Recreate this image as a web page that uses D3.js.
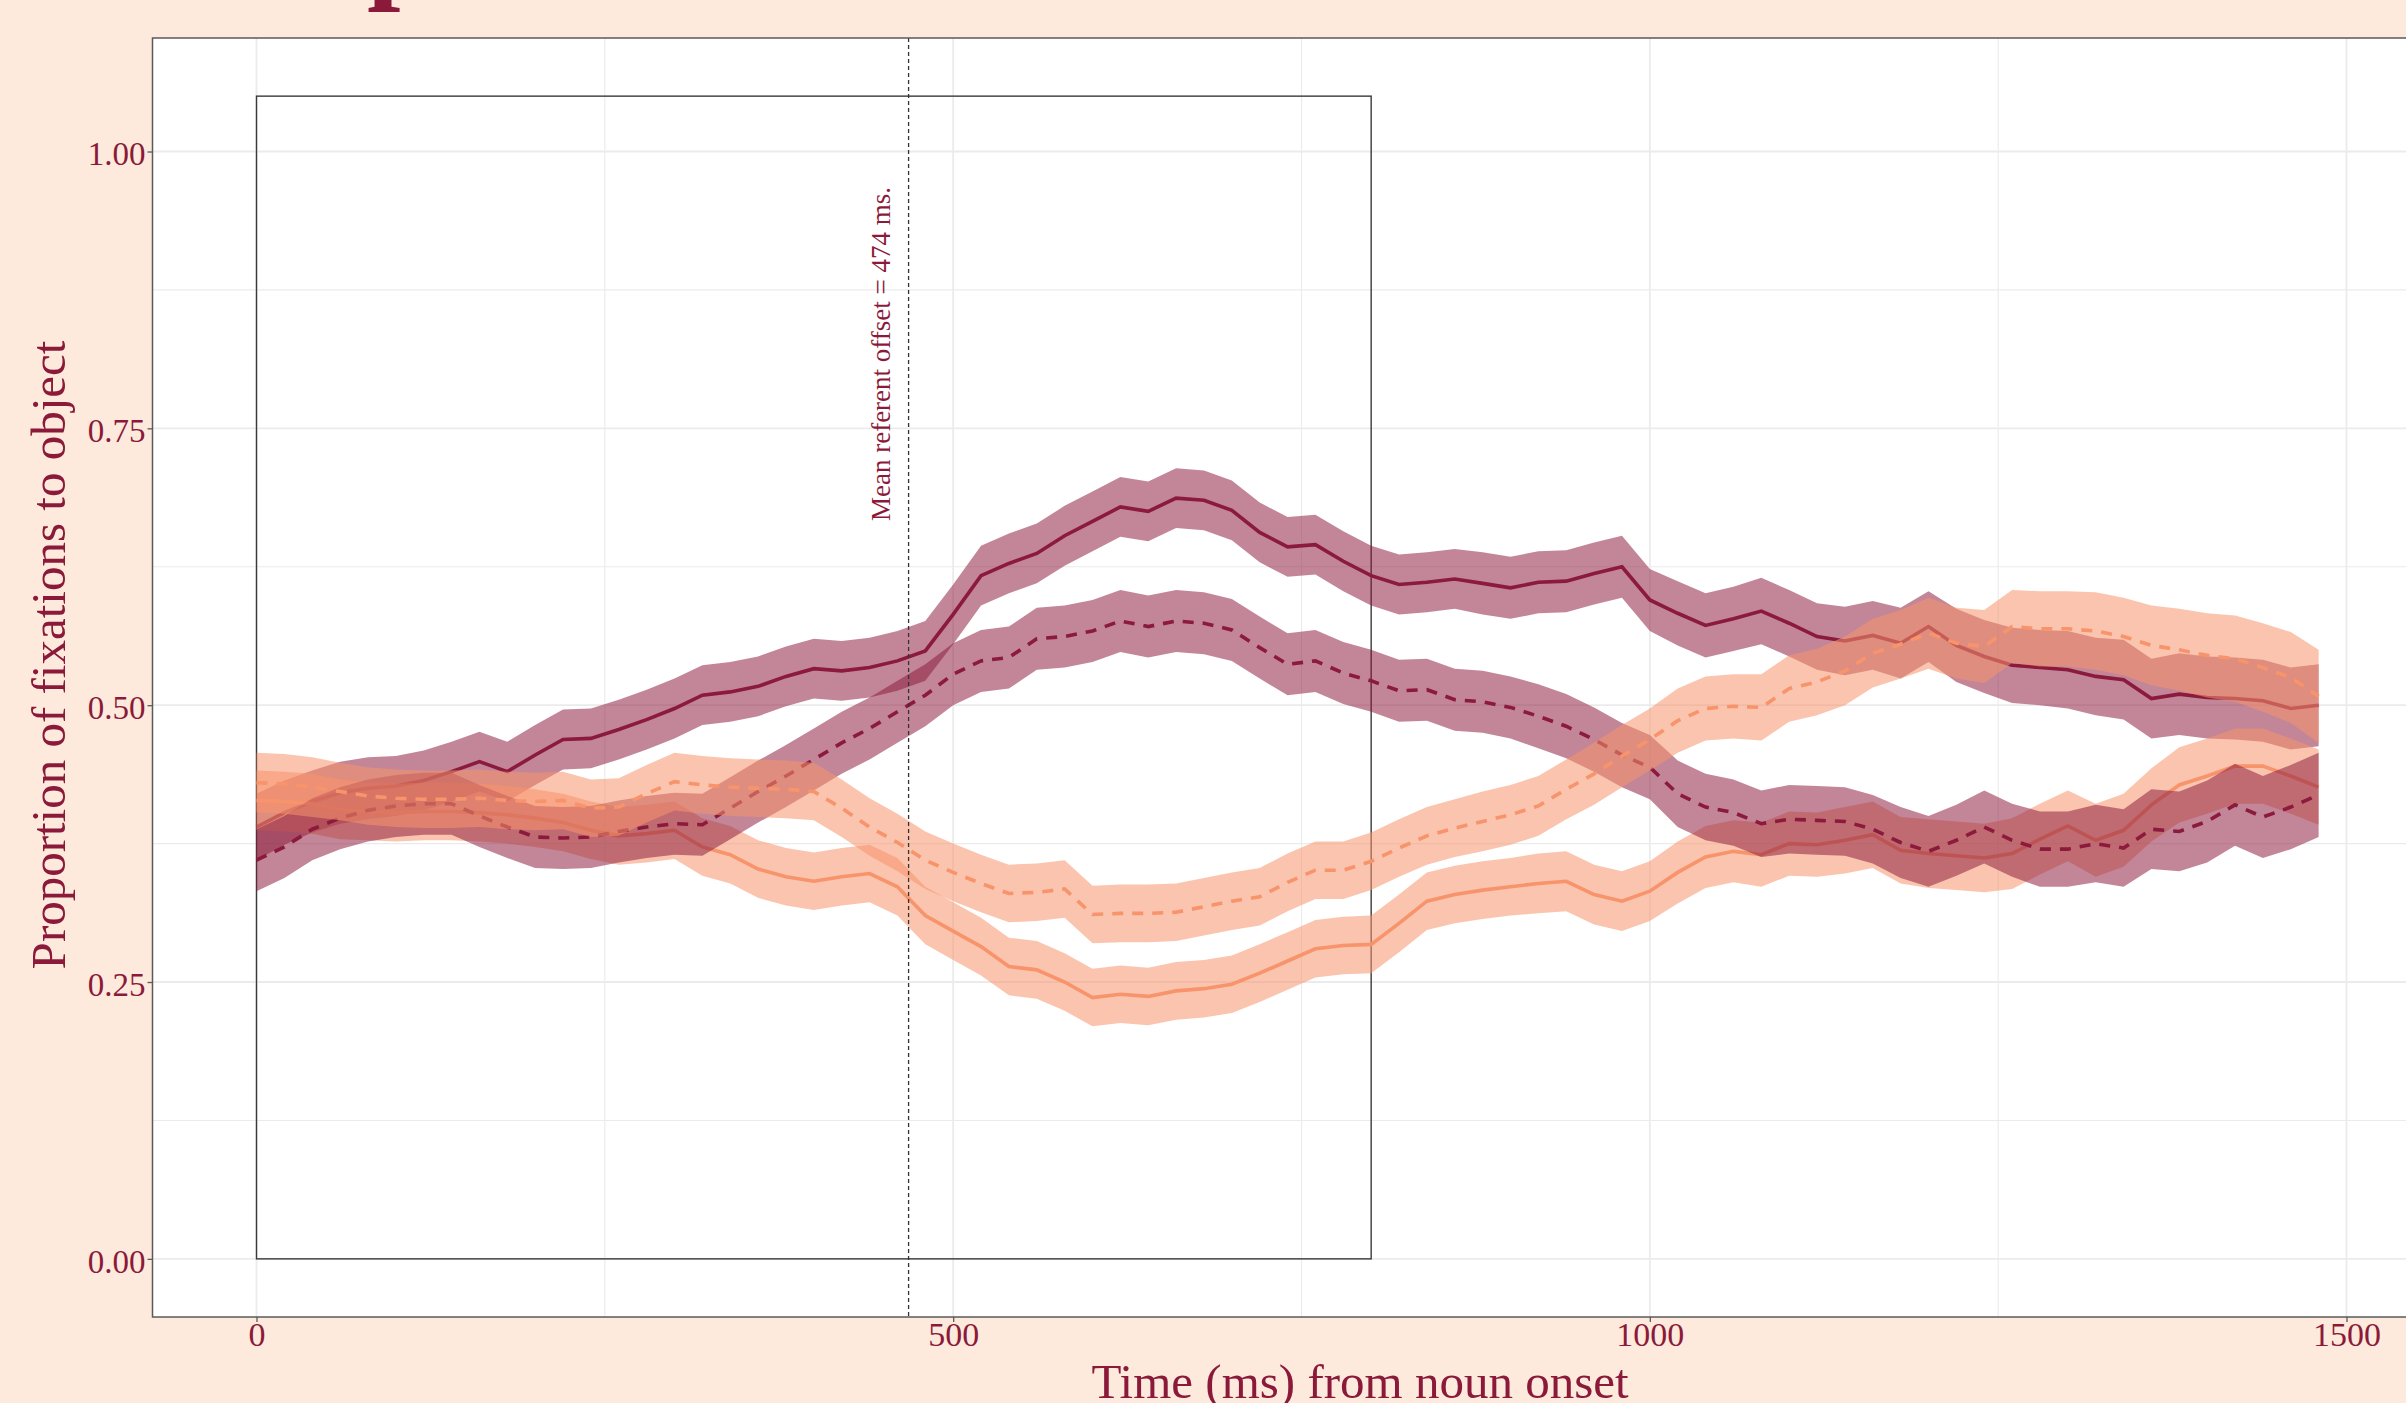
<!DOCTYPE html>
<html>
<head>
<meta charset="utf-8">
<script src="https://cdn.jsdelivr.net/npm/d3@7"></script>
<style>
  html, body { margin: 0; padding: 0; background: #FDEADC; }
  svg { display: block; }
  text { font-family: "Liberation Serif", "DejaVu Serif", serif; }
</style>
</head>
<body>
<svg id="chart" width="2406" height="1403"></svg>
<script>
// ---------------- DATA ----------------
const timeMs = [0,20,40,60,80,100,120,140,160,180,200,220,240,260,280,300,320,340,360,380,
  400,420,440,460,480,500,520,540,560,580,600,620,640,660,680,700,720,740,760,780,
  800,820,840,860,880,900,920,940,960,980,1000,1020,1040,1060,1080,1100,1120,1140,1160,1180,
  1200,1220,1240,1260,1280,1300,1320,1340,1360,1380,1400,1420,1440,1460,1480];

// dark (maroon) condition, solid line
const darkSolid = [0.390,0.403,0.413,0.421,0.425,0.427,0.432,0.440,0.449,0.440,
  0.455,0.469,0.470,0.478,0.487,0.497,0.509,0.512,0.517,0.526,
  0.533,0.531,0.534,0.540,0.549,0.582,0.617,0.628,0.637,0.653,
  0.666,0.679,0.675,0.687,0.685,0.676,0.656,0.643,0.645,0.630,
  0.617,0.609,0.611,0.614,0.610,0.606,0.611,0.612,0.619,0.625,
  0.595,0.583,0.572,0.578,0.585,0.574,0.562,0.558,0.563,0.556,
  0.571,0.554,0.544,0.536,0.534,0.532,0.526,0.523,0.506,0.510,
  0.507,0.506,0.504,0.497,0.500];
const darkSolidHalfCI = [0.030,0.029,0.028,0.028,0.028,0.027,0.027,0.027,0.027,0.027,
  0.027,0.027,0.027,0.027,0.027,0.027,0.027,0.027,0.027,0.027,
  0.027,0.027,0.027,0.027,0.027,0.027,0.027,0.027,0.027,0.027,
  0.027,0.027,0.027,0.027,0.027,0.027,0.027,0.027,0.027,0.027,
  0.027,0.027,0.027,0.027,0.028,0.028,0.028,0.028,0.028,0.028,
  0.028,0.029,0.029,0.029,0.030,0.030,0.030,0.031,0.031,0.032,
  0.032,0.033,0.033,0.034,0.034,0.035,0.035,0.036,0.036,0.037,
  0.037,0.037,0.037,0.037,0.037];

// dark (maroon) condition, dashed line
const darkDashed = [0.360,0.372,0.388,0.398,0.405,0.409,0.411,0.411,0.400,0.390,
  0.381,0.380,0.381,0.386,0.390,0.393,0.392,0.407,0.422,0.436,
  0.451,0.466,0.479,0.494,0.509,0.528,0.540,0.543,0.560,0.562,
  0.567,0.576,0.571,0.576,0.574,0.568,0.552,0.537,0.540,0.529,
  0.522,0.513,0.514,0.505,0.503,0.498,0.490,0.481,0.469,0.455,
  0.444,0.420,0.408,0.403,0.393,0.397,0.396,0.395,0.388,0.376,
  0.368,0.378,0.390,0.378,0.370,0.370,0.375,0.371,0.388,0.386,
  0.395,0.410,0.399,0.408,0.419];
const darkDashedHalfCI = [0.028,0.028,0.028,0.028,0.028,0.028,0.028,0.028,0.028,0.028,
  0.028,0.028,0.028,0.028,0.028,0.028,0.028,0.028,0.028,0.028,
  0.028,0.028,0.028,0.028,0.028,0.028,0.028,0.028,0.028,0.028,
  0.028,0.028,0.028,0.028,0.028,0.028,0.028,0.028,0.028,0.028,
  0.028,0.028,0.028,0.028,0.028,0.028,0.029,0.029,0.029,0.029,
  0.029,0.030,0.030,0.030,0.030,0.031,0.031,0.031,0.031,0.032,
  0.032,0.032,0.033,0.033,0.034,0.034,0.035,0.035,0.036,0.036,
  0.037,0.037,0.037,0.038,0.038];

// light (salmon) condition, solid line
const lightSolid = [0.414,0.413,0.411,0.406,0.404,0.403,0.404,0.404,0.403,0.401,
  0.398,0.394,0.387,0.382,0.384,0.387,0.372,0.365,0.352,0.345,
  0.341,0.345,0.348,0.336,0.310,0.296,0.282,0.264,0.261,0.250,
  0.236,0.239,0.237,0.242,0.244,0.248,0.258,0.269,0.280,0.283,
  0.284,0.303,0.323,0.329,0.333,0.336,0.339,0.341,0.329,0.323,
  0.332,0.349,0.363,0.368,0.365,0.375,0.374,0.378,0.383,0.369,
  0.366,0.364,0.362,0.366,0.379,0.391,0.378,0.387,0.410,0.428,
  0.436,0.445,0.445,0.436,0.426];
const lightSolidHalfCI = [0.027,0.027,0.027,0.027,0.026,0.026,0.026,0.026,0.026,0.026,
  0.026,0.026,0.026,0.026,0.026,0.026,0.026,0.026,0.026,0.026,
  0.026,0.026,0.026,0.026,0.026,0.026,0.026,0.026,0.026,0.026,
  0.026,0.026,0.026,0.026,0.026,0.026,0.026,0.026,0.026,0.026,
  0.026,0.026,0.026,0.026,0.026,0.026,0.027,0.027,0.027,0.027,
  0.027,0.028,0.028,0.028,0.029,0.029,0.029,0.030,0.030,0.030,
  0.031,0.031,0.031,0.032,0.032,0.032,0.033,0.033,0.033,0.034,
  0.034,0.034,0.034,0.034,0.034];

// light (salmon) condition, dashed line
const lightDashed = [0.430,0.429,0.426,0.422,0.418,0.416,0.415,0.415,0.416,0.414,
  0.413,0.414,0.407,0.408,0.420,0.431,0.428,0.426,0.425,0.424,
  0.422,0.407,0.390,0.376,0.360,0.349,0.339,0.330,0.331,0.334,
  0.311,0.312,0.312,0.313,0.318,0.323,0.327,0.340,0.351,0.351,
  0.359,0.371,0.382,0.389,0.395,0.401,0.409,0.424,0.438,0.454,
  0.469,0.486,0.497,0.499,0.498,0.515,0.521,0.531,0.547,0.555,
  0.565,0.556,0.553,0.571,0.569,0.569,0.567,0.562,0.554,0.550,
  0.545,0.542,0.534,0.525,0.508];
const lightDashedHalfCI = [0.027,0.027,0.027,0.026,0.026,0.026,0.026,0.026,0.026,0.026,
  0.026,0.026,0.026,0.026,0.026,0.026,0.026,0.026,0.026,0.026,
  0.026,0.026,0.026,0.026,0.026,0.026,0.026,0.026,0.026,0.026,
  0.026,0.026,0.026,0.026,0.026,0.026,0.026,0.026,0.026,0.026,
  0.026,0.026,0.026,0.026,0.027,0.027,0.027,0.027,0.028,0.028,
  0.028,0.029,0.029,0.029,0.030,0.030,0.030,0.031,0.031,0.031,
  0.032,0.032,0.033,0.033,0.034,0.034,0.035,0.035,0.036,0.037,
  0.038,0.039,0.040,0.041,0.042];

const xTickValues = [0, 500, 1000, 1500];
const xTickLabels = ["0", "500", "1000", "1500"];
const yTickValues = [0, 0.25, 0.5, 0.75, 1];
const yTickLabels = ["0.00", "0.25", "0.50", "0.75", "1.00"];
const xGridValues = [0, 250, 500, 750, 1000, 1250, 1500];
const yGridValues = [0, 0.125, 0.25, 0.375, 0.5, 0.625, 0.75, 0.875, 1];
const windowStart = 0, windowEnd = 800, windowTop = 1.05;
const referentLine = 468;
const referentLabel = "Mean referent offset = 474 ms.";
const titleText = "Experiment 1";
const xTitle = "Time (ms) from noun onset";
const yTitle = "Proportion of fixations to object";

// ---------------- LAYOUT ----------------
const W = 2406, H = 1403;
const panel = { left: 152.5, top: 38, right: 2451, bottom: 1317 };
const textColor = "#8B1A3A";
const darkColor = "#8B1A3C";
const lightColor = "#F7946C";

const svg = d3.select("#chart");
svg.append("rect").attr("width", W).attr("height", H).attr("fill", "#FDEADC");

const x = d3.scaleLinear().domain([-75, 1575]).range([152, 2451]);
const y = d3.scaleLinear().domain([-0.0525, 1.1025]).range([panel.bottom, panel.top]);

// clip
svg.append("defs").append("clipPath").attr("id", "clip")
  .append("rect").attr("x", panel.left).attr("y", panel.top)
  .attr("width", panel.right - panel.left).attr("height", panel.bottom - panel.top);

// panel background
svg.append("rect").attr("x", panel.left).attr("y", panel.top)
  .attr("width", panel.right - panel.left).attr("height", panel.bottom - panel.top)
  .attr("fill", "#FFFFFF");

const plot = svg.append("g").attr("clip-path", "url(#clip)");

// grid
plot.selectAll("line.gx").data(xGridValues).join("line")
  .attr("x1", d => x(d)).attr("x2", d => x(d))
  .attr("y1", panel.top).attr("y2", panel.bottom)
  .attr("stroke", "#EBEBEB").attr("stroke-width", d => d % 500 === 0 ? 1.8 : 1.1);
plot.selectAll("line.gy").data(yGridValues).join("line")
  .attr("y1", d => y(d)).attr("y2", d => y(d))
  .attr("x1", panel.left).attr("x2", panel.right)
  .attr("stroke", "#EBEBEB").attr("stroke-width", d => (d * 4) % 1 === 0 ? 1.8 : 1.1);

// analysis window box
plot.append("rect")
  .attr("x", x(windowStart)).attr("y", y(windowTop))
  .attr("width", x(windowEnd) - x(windowStart)).attr("height", y(0) - y(windowTop))
  .attr("fill", "none").attr("stroke", "#3A3A3A").attr("stroke-width", 1.4);

// series
function build(values, half) { return timeMs.map((t, i) => ({ t, v: values[i], h: half[i] })); }
const series = [
  { data: build(darkSolid, darkSolidHalfCI), color: darkColor, alpha: 0.53, dash: null },
  { data: build(lightSolid, lightSolidHalfCI), color: lightColor, alpha: 0.55, dash: null },
  { data: build(darkDashed, darkDashedHalfCI), color: darkColor, alpha: 0.53, dash: "11,9" },
  { data: build(lightDashed, lightDashedHalfCI), color: lightColor, alpha: 0.55, dash: "11,9" }
];
const area = d3.area().x(d => x(d.t)).y0(d => y(d.v - d.h)).y1(d => y(d.v + d.h));
const line = d3.line().x(d => x(d.t)).y(d => y(d.v));

series.forEach(s => {
  plot.append("path").attr("d", area(s.data))
    .attr("fill", s.color).attr("fill-opacity", s.alpha).attr("stroke", "none");
  plot.append("path").attr("d", line(s.data))
    .attr("fill", "none").attr("stroke", s.color).attr("stroke-width", 3.6)
    .attr("stroke-dasharray", s.dash);
});

// referent offset line + label
plot.append("line")
  .attr("x1", x(referentLine)).attr("x2", x(referentLine))
  .attr("y1", panel.top).attr("y2", panel.bottom)
  .attr("stroke", "#333").attr("stroke-width", 1.3).attr("stroke-dasharray", "4,3");
svg.append("text")
  .attr("transform", `translate(${x(referentLine) - 19},354) rotate(-90)`)
  .attr("text-anchor", "middle").attr("fill", textColor)
  .attr("font-size", 27).text(referentLabel);

// panel border
svg.append("rect").attr("x", panel.left).attr("y", panel.top)
  .attr("width", panel.right - panel.left).attr("height", panel.bottom - panel.top)
  .attr("fill", "none").attr("stroke", "#5A5A5A").attr("stroke-width", 1.5);

// axes
const yAxis = d3.axisLeft(y).tickValues(yTickValues)
  .tickFormat((d, i) => yTickLabels[i]).tickSize(5).tickPadding(2);
const gy = svg.append("g").attr("transform", `translate(${panel.left},0)`).call(yAxis);
gy.select(".domain").remove();
gy.selectAll(".tick line").attr("stroke", "#5A5A5A").attr("stroke-width", 1.3);
gy.selectAll(".tick text").attr("fill", textColor).attr("font-size", 33)
  .attr("font-family", "Liberation Serif").attr("dy", "0.40em");

const xAxis = d3.axisBottom(x).tickValues(xTickValues)
  .tickFormat((d, i) => xTickLabels[i]).tickSize(5).tickPadding(0);
const gx = svg.append("g").attr("transform", `translate(0,${panel.bottom})`).call(xAxis);
gx.select(".domain").remove();
gx.selectAll(".tick line").attr("stroke", "#5A5A5A").attr("stroke-width", 1.3);
gx.selectAll(".tick text").attr("fill", textColor).attr("font-size", 34)
  .attr("font-family", "Liberation Serif");

// axis titles
svg.append("text").attr("x", 1360).attr("y", 1398).attr("text-anchor", "middle")
  .attr("fill", textColor).attr("font-size", 49).text(xTitle);
svg.append("text").attr("transform", "translate(65,655) rotate(-90)")
  .attr("text-anchor", "middle").attr("fill", textColor).attr("font-size", 49).text(yTitle);

// title (mostly cut off at top, as in the source image)
svg.append("text").attr("x", 227).attr("y", -14).attr("fill", textColor)
  .attr("font-size", 120).attr("font-weight", "bold").text(titleText);
</script>
</body>
</html>
